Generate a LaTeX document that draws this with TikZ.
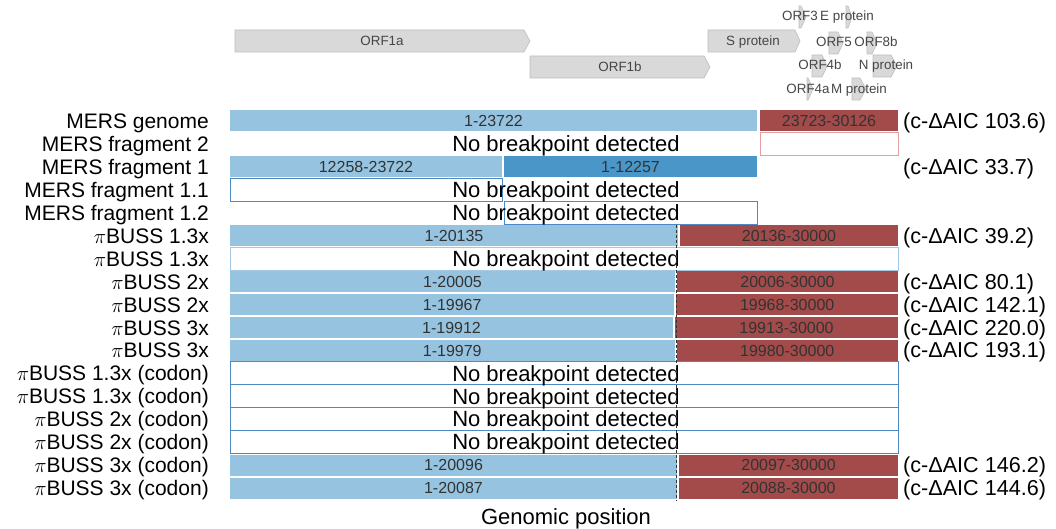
\documentclass[tikz,border=0pt]{standalone}
\usepackage{tikz}
\usepackage{amsmath}
\usepackage{fontspec}
\setmainfont{Liberation Sans}
\definecolor{barblue}{RGB}{149,195,224}
\definecolor{bardark}{RGB}{74,150,201}
\definecolor{barred}{RGB}{163,74,74}
\definecolor{boxblue}{RGB}{79,137,196}
\definecolor{boxpale}{RGB}{166,200,232}
\definecolor{boxred}{RGB}{226,160,160}
\definecolor{genefill}{RGB}{217,217,217}
\definecolor{geneline}{RGB}{190,190,190}
\definecolor{genetext}{RGB}{70,70,70}

\begin{document}
\begin{tikzpicture}[x=1pt, y=-1pt,
    rowlab/.style={anchor=east, inner sep=0pt, text height=15pt, text depth=0pt, font=\fontsize{21}{21}\selectfont},
    aic/.style={anchor=west, inner sep=0pt, text height=15pt, text depth=0pt, font=\fontsize{21.6}{21.6}\selectfont},
    nobp/.style={inner sep=0pt, text height=15.5pt, text depth=0pt, font=\fontsize{22}{22}\selectfont},
    bar/.style={inner sep=0pt, minimum height=21pt, text height=11.5pt, text depth=0pt, text=black!80, font=\fontsize{16}{16}\selectfont},
    leftbar/.style={bar, fill=barblue},
    rightbar/.style={bar, fill=barred},
    nobox/.style={draw=boxblue, line width=0.8pt, minimum height=22.9pt, inner sep=0pt},
    gene/.style={fill=genefill, draw=geneline, line width=0.6pt},
    genelab/.style={inner sep=0pt, text height=9.5pt, text depth=0pt, text=genetext, font=\fontsize{13.4}{13.4}\selectfont}]
    \useasboundingbox (0,0) rectangle (1056,529);

    % gene track
    \draw[gene] (235,30) -- (524,30) -- (530,41) -- (524,52) -- (235,52) -- cycle;
    \draw[gene] (530,56) -- (704,56) -- (710,67) -- (704,78) -- (530,78) -- cycle;
    \draw[gene] (708,30) -- (795,30) -- (800,41) -- (795,52) -- (708,52) -- cycle;
    \draw[gene] (799,6) -- (801,6) -- (806,17) -- (801,28) -- (799,28) -- cycle;
    \draw[gene] (846,6) -- (848,6) -- (852,17) -- (848,28) -- (846,28) -- cycle;
    \draw[gene] (829,32) -- (838,32) -- (843,43) -- (838,54) -- (829,54) -- cycle;
    \draw[gene] (867,32) -- (872,32) -- (877,43) -- (872,54) -- (867,54) -- cycle;
    \draw[gene] (812,55) -- (822,55) -- (827,66) -- (822,77) -- (812,77) -- cycle;
    \draw[gene] (873,55) -- (891,55) -- (897,66) -- (891,77) -- (873,77) -- cycle;
    \draw[gene] (807,78) -- (808,78) -- (813,89) -- (808,100) -- (807,100) -- cycle;
    \draw[gene] (852,78) -- (860,78) -- (866,89) -- (860,100) -- (852,100) -- cycle;
    \node[genelab] (orf1a) at (382,41) {ORF1a};
    \node[genelab] (orf1b) at (620,67) {ORF1b};
    \node[genelab] (sprot) at (753,41) {S protein};
    \node[genelab] (orf3) at (800,16) {ORF3};
    \node[genelab] (eprot) at (847,16) {E protein};
    \node[genelab] (orf5) at (834,42) {ORF5};
    \node[genelab] (orf8b) at (876,42) {ORF8b};
    \node[genelab] (orf4b) at (820,65) {ORF4b};
    \node[genelab] (nprot) at (886,65) {N protein};
    \node[genelab] (orf4a) at (808,89) {ORF4a};
    \node[genelab] (mprot) at (859,89) {M protein};

    % row labels
    \node[rowlab] (l0) at (209,121.0) {MERS genome};
    \node[rowlab] (l1) at (209,143.9) {MERS fragment 2};
    \node[rowlab] (l2) at (209,166.9) {MERS fragment 1};
    \node[rowlab] (l3) at (209,189.8) {MERS fragment 1.1};
    \node[rowlab] (l4) at (209,212.8) {MERS fragment 1.2};
    \node[rowlab] (l5) at (209,235.7) {$\pi$BUSS 1.3x};
    \node[rowlab] (l6) at (209,258.6) {$\pi$BUSS 1.3x};
    \node[rowlab] (l7) at (209,281.6) {$\pi$BUSS 2x};
    \node[rowlab] (l8) at (209,304.5) {$\pi$BUSS 2x};
    \node[rowlab] (l9) at (209,327.5) {$\pi$BUSS 3x};
    \node[rowlab] (l10) at (209,350.4) {$\pi$BUSS 3x};
    \node[rowlab] (l11) at (209,373.3) {$\pi$BUSS 1.3x (codon)};
    \node[rowlab] (l12) at (209,396.3) {$\pi$BUSS 1.3x (codon)};
    \node[rowlab] (l13) at (209,419.2) {$\pi$BUSS 2x (codon)};
    \node[rowlab] (l14) at (209,442.2) {$\pi$BUSS 2x (codon)};
    \node[rowlab] (l15) at (209,465.1) {$\pi$BUSS 3x (codon)};
    \node[rowlab] (l16) at (209,488.0) {$\pi$BUSS 3x (codon)};

    % segments
    \node[leftbar, minimum width=527pt] (b0) at (493.5,121.0) {1-23722};
    \node[rightbar, minimum width=138pt] (r0) at (829,121.0) {23723-30126};
    \node[nobox, draw=boxred, minimum width=138pt] (o1) at (829,143.9) {};
    \node[leftbar, minimum width=272pt] (b2) at (366,166.9) {12258-23722};
    \node[bar, fill=bardark, minimum width=253pt] (r2) at (630.5,166.9) {1-12257};
    \node[nobox, minimum width=272pt] (o3) at (366,189.8) {};
    \node[nobox, minimum width=253pt] (o4) at (630.5,212.8) {};
    \node[leftbar, minimum width=448pt] (b5) at (454,235.7) {1-20135};
    \node[rightbar, minimum width=218pt] (r5) at (789,235.7) {20136-30000};
    \node[nobox, draw=boxpale, minimum width=668pt] (o6) at (564,258.6) {};
    \node[leftbar, minimum width=445pt] (b7) at (452.5,281.6) {1-20005};
    \node[rightbar, minimum width=221pt] (r7) at (787.5,281.6) {20006-30000};
    \node[leftbar, minimum width=444.3pt] (b8) at (452.15,304.5) {1-19967};
    \node[rightbar, minimum width=221.7pt] (r8) at (787.15,304.5) {19968-30000};
    \node[leftbar, minimum width=443pt] (b9) at (451.5,327.5) {1-19912};
    \node[rightbar, minimum width=223pt] (r9) at (786.5,327.5) {19913-30000};
    \node[leftbar, minimum width=444.5pt] (b10) at (452.25,350.4) {1-19979};
    \node[rightbar, minimum width=221.5pt] (r10) at (787.25,350.4) {19980-30000};
    \node[nobox, minimum width=668pt] (o11) at (564,373.3) {};
    \node[nobox, minimum width=668pt] (o12) at (564,396.3) {};
    \node[nobox, minimum width=668pt] (o13) at (564,419.2) {};
    \node[nobox, minimum width=668pt] (o14) at (564,442.2) {};
    \node[leftbar, minimum width=447.1pt] (b15) at (453.55,465.1) {1-20096};
    \node[rightbar, minimum width=218.9pt] (r15) at (788.55,465.1) {20097-30000};
    \node[leftbar, minimum width=446.9pt] (b16) at (453.45,488.0) {1-20087};
    \node[rightbar, minimum width=219.1pt] (r16) at (788.45,488.0) {20088-30000};

    % no breakpoint rows
    \node[nobp] (n1) at (566,143.9) {No breakpoint detected};
    \node[nobp] (n3) at (566,189.8) {No breakpoint detected};
    \node[nobp] (n4) at (566,212.8) {No breakpoint detected};
    \node[nobp] (n6) at (566,258.6) {No breakpoint detected};
    \node[nobp] (n11) at (566,373.3) {No breakpoint detected};
    \node[nobp] (n12) at (566,396.3) {No breakpoint detected};
    \node[nobp] (n13) at (566,419.2) {No breakpoint detected};
    \node[nobp] (n14) at (566,442.2) {No breakpoint detected};

    % breakpoint marker
    \coordinate (dtop) at (676,224.6);
    \coordinate (dbot) at (676,500.5);
    \draw[black!80, line width=0.9pt, dash pattern=on 3pt off 2pt] (dtop) -- (dbot);

    % c-AIC values
    \node[aic] (a0) at (903,121.0) {(c-ΔAIC 103.6)};
    \node[aic] (a2) at (903,166.9) {(c-ΔAIC 33.7)};
    \node[aic] (a5) at (903,235.7) {(c-ΔAIC 39.2)};
    \node[aic] (a7) at (903,281.6) {(c-ΔAIC 80.1)};
    \node[aic] (a8) at (903,304.5) {(c-ΔAIC 142.1)};
    \node[aic] (a9) at (903,327.5) {(c-ΔAIC 220.0)};
    \node[aic] (a10) at (903,350.4) {(c-ΔAIC 193.1)};
    \node[aic] (a15) at (903,465.1) {(c-ΔAIC 146.2)};
    \node[aic] (a16) at (903,488.0) {(c-ΔAIC 144.6)};

    \node[nobp] (xlab) at (566,517) {Genomic position};
\end{tikzpicture}
\end{document}
